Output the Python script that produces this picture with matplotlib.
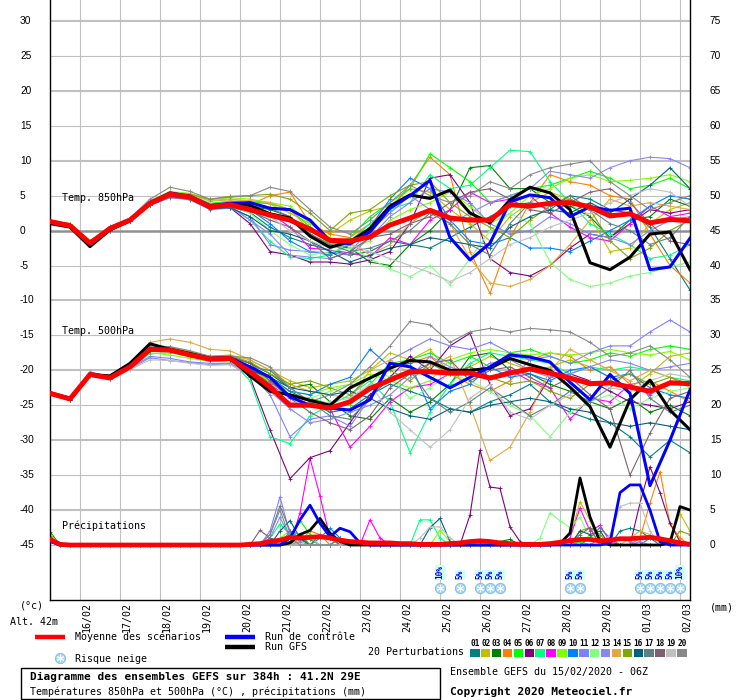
import numpy as np
import matplotlib
matplotlib.use('Agg')
import matplotlib.pyplot as plt
from matplotlib.patches import Rectangle

W, H = 740, 700
MONO = 'DejaVu Sans Mono'
SANS = 'Liberation Sans'

# ---------------- data ----------------
dates = ['16/02', '17/02', '18/02', '19/02', '20/02', '21/02', '22/02', '23/02',
         '24/02', '25/02', '26/02', '27/02', '28/02', '29/02', '01/03', '02/03']
hours12 = list(range(0, 385, 12))   # forecast hours from 15/02 06Z
hours6 = list(range(0, 385, 6))

member_colors = ['#008080', '#c0c000', '#008000', '#ff8000', '#00ff00', '#800080',
                 '#00ff80', '#ff00ff', '#80ff00', '#0080ff', '#8080ff', '#80ff80',
                 '#8888f0', '#e0a840', '#80a800', '#006080', '#608080', '#806070',
                 '#c0c0c0', '#888888']

t850_mean = [1.3,0.7,-1.8,0.3,1.5,3.9,5.2,4.8,3.4,3.7,3.0, 2.2,1.5,0.2,-1.4,-1.5,-0.9,0.8,1.8,2.9,1.8,1.5, 1.5,3.7,3.5,3.9,4.0,3.4,2.1,2.4,1.1,1.6,1.4]
t850_ctrl = [1.2,0.7,-2.0,0.3,1.4,4.0,5.4,4.9,3.6,3.9,4.0, 3.2,3.0,1.5,-1.5,-1.9,-0.2,3.2,5.0,7.2,-1.0,-4.2, -1.8,4.1,5.1,4.7,2.0,3.4,2.9,3.2,-5.6,-5.2,-1.1]
t850_gfs = [1.0,0.5,-2.3,0.1,1.4,3.9,5.3,4.9,3.5,3.8,3.6, 2.4,1.8,-0.8,-2.4,-1.6,0.3,3.5,5.1,4.6,5.8,2.5, 1.1,4.4,6.2,5.4,3.0,-4.6,-5.6,-3.8,-0.5,-0.2,-5.6]

t850_members = [
    [1.2,0.8,-1.9,0.2,1.5,3.8,5.0,4.6,3.2,3.4,2.6, 0.5,-1.0,-2.0,-2.8,-3.5,-3.0,-1.5,-2.0,-2.5,-1.0,0.5, 2.0,3.5,4.0,3.0,5.0,4.5,3.0,2.5,0.5,-4.0,-8.5],
    [1.4,0.9,-1.6,0.4,1.6,4.1,5.5,5.3,4.4,4.5,4.2, 3.8,2.5,1.0,-0.5,1.5,2.8,3.5,6.0,5.5,3.0,1.0, -1.5,2.0,4.0,5.5,4.5,2.0,-3.0,-2.5,1.0,3.0,4.0],
    [1.3,0.7,-1.7,0.3,1.4,3.9,5.1,4.9,3.6,3.8,3.5, 3.0,2.0,-0.5,-2.0,-2.5,-4.5,-5.0,-2.0,0.0,3.0,9.0, 9.3,6.0,6.0,4.0,3.5,2.0,-1.0,1.5,2.0,4.5,3.5],
    [1.1,0.6,-1.8,0.2,1.5,4.0,5.2,5.0,3.8,3.9,3.7, 5.0,5.5,1.0,-0.5,-1.0,1.0,3.0,6.5,10.5,8.0,-3.0, -9.0,-1.0,4.0,8.0,7.0,6.5,5.0,4.5,-0.5,-5.0,-7.5],
    [1.2,0.8,-1.8,0.3,1.6,4.2,5.4,5.1,3.9,4.2,4.0, 3.9,3.0,0.5,-2.0,-1.0,2.0,4.0,6.0,11.0,9.0,7.0, 4.0,5.0,6.0,6.5,7.5,8.5,7.5,6.0,6.5,7.5,6.0],
    [1.0,0.5,-2.1,0.0,1.3,3.6,4.8,4.5,3.2,3.3,1.0, -3.0,-3.5,-4.5,-4.5,-4.8,-4.2,-3.0,1.0,7.5,8.0,4.0, -4.0,-6.0,-6.5,-5.0,-2.5,-0.5,-1.0,1.0,3.0,2.5,3.0],
    [1.2,0.8,-1.9,0.1,1.3,3.7,5.0,4.7,3.3,3.5,1.5, -1.5,-3.8,-4.0,-3.5,-1.5,1.0,3.0,4.0,8.0,6.0,6.5, 9.0,11.5,11.3,7.0,4.0,1.0,-0.5,-2.0,-4.0,-3.5,-2.0],
    [1.3,0.9,-1.7,0.4,1.5,4.0,5.2,4.8,3.5,3.8,3.5, 2.5,0.5,-2.5,-2.8,-3.2,-3.8,-1.0,-2.0,1.5,3.0,5.5, 4.0,4.5,5.0,2.5,0.5,-1.0,-1.5,1.0,3.5,2.0,2.5],
    [1.4,1.0,-1.5,0.5,1.7,4.3,5.6,5.3,4.3,4.7,4.5, 4.0,3.5,1.0,-1.0,-2.5,-1.5,1.5,3.0,4.0,5.5,3.5, 1.0,2.5,5.0,6.0,7.5,8.0,7.0,7.2,7.5,8.0,7.0],
    [1.2,0.7,-1.9,0.2,1.4,3.8,5.0,4.6,3.4,3.5,3.0, 1.0,-1.5,-3.0,-3.5,-2.0,0.5,4.5,7.5,6.0,1.5,-1.5, -2.0,-1.0,-2.5,-2.5,-3.0,-1.5,0.0,1.5,3.5,5.0,4.5],
    [1.1,0.6,-2.0,0.1,1.3,3.6,4.7,4.4,3.0,3.2,2.0, -2.0,-2.8,-3.0,-3.2,-3.5,-1.0,2.0,4.0,6.0,5.5,4.0, 1.0,-0.5,0.0,2.0,1.0,-0.5,-1.0,-2.0,0.0,1.5,2.0],
    [1.3,0.8,-1.8,0.3,1.5,4.0,5.1,4.7,3.4,3.6,2.5, 0.0,-2.0,-3.5,-3.0,-2.5,-4.0,-5.5,-6.6,-5.0,-7.8,-4.0, 0.0,2.5,1.0,-4.5,-7.0,-8.0,-7.5,-6.5,-6.0,-5.2,-4.5],
    [1.2,0.7,-1.9,0.2,1.4,3.7,4.9,4.6,3.3,3.4,1.5, -0.5,-3.5,-3.8,-4.0,-3.0,0.0,2.5,5.0,3.0,1.0,2.5, 4.0,5.0,6.0,8.5,8.0,7.5,9.0,10.0,10.5,10.3,9.0],
    [1.3,0.8,-1.7,0.4,1.6,4.1,5.4,5.2,4.2,4.4,4.3, 4.0,3.0,0.0,-1.5,-1.8,-3.5,-2.0,1.0,3.0,1.0,-4.0, -7.5,-8.0,-7.0,-5.0,-2.0,1.5,4.5,3.5,4.0,3.5,3.0],
    [1.4,1.0,-1.6,0.5,1.7,4.2,5.4,5.2,4.5,4.9,5.0, 5.2,4.5,2.5,0.0,2.5,3.0,5.0,6.5,7.0,4.0,2.0, 0.5,-1.0,1.5,3.5,4.5,3.0,-1.5,-4.0,-2.5,0.0,1.5],
    [1.1,0.6,-2.0,0.1,1.3,3.7,4.9,4.5,3.1,3.3,2.0, 0.0,-0.5,-1.5,-3.0,-4.5,-3.5,-2.5,-2.0,-1.0,-1.5,-2.0, -2.5,0.5,2.0,3.0,2.5,4.0,2.5,4.5,6.5,9.0,6.0],
    [1.2,0.7,-1.8,0.2,1.4,3.8,5.0,4.6,3.4,3.6,3.5, 3.2,2.0,-0.5,-2.0,-3.0,-2.5,-1.5,0.0,2.5,1.0,-2.0, -3.5,1.0,4.0,3.5,5.0,3.0,1.0,0.0,-2.0,-1.0,2.0],
    [1.0,0.6,-2.0,0.0,1.3,3.7,4.8,4.5,3.3,3.4,2.8, 1.5,0.5,-1.5,-4.0,-3.0,-1.0,-0.5,1.0,2.0,4.0,5.5, 6.0,4.5,3.0,2.5,4.0,5.5,6.0,4.0,1.0,-1.5,-2.0],
    [1.3,0.9,-1.8,0.3,1.5,4.0,5.3,5.0,3.8,4.0,3.8, 2.0,0.0,-1.5,-2.5,-2.0,-3.0,-4.0,-5.0,-6.0,-7.3,-6.0, -4.0,-2.0,-1.0,0.5,1.5,2.5,4.0,5.0,6.0,5.5,3.5],
    [1.4,1.0,-1.5,0.6,1.8,4.5,6.2,5.6,4.5,4.8,5.0, 6.2,5.6,3.0,0.5,-0.5,1.5,4.0,6.5,5.0,4.0,5.0, 7.0,6.0,8.0,9.0,9.5,10.0,7.0,5.0,3.0,4.0,5.0],
]

t500_mean = [-23.3,-24.1,-20.6,-21.1,-19.5,-17.0,-17.1,-17.8,-18.4,-18.3,-20.2, -22.4,-25.0,-25.0,-25.4,-24.5,-22.6,-21.4,-20.2,-20.2,-20.4,-20.4, -21.1,-20.4,-19.8,-20.4,-21.1,-21.9,-21.8,-22.4,-23.0,-21.8,-21.9]
t500_ctrl = [-23.3,-24.1,-20.5,-21.0,-19.4,-17.0,-17.0,-17.8,-18.3,-18.2,-19.5, -21.0,-23.8,-25.0,-25.4,-25.7,-24.2,-19.0,-19.5,-21.0,-22.5,-21.0, -19.5,-17.8,-18.1,-18.8,-21.7,-24.2,-20.6,-23.3,-36.5,-30.0,-22.8]
t500_gfs = [-23.2,-24.0,-20.6,-20.8,-19.0,-16.2,-17.0,-17.6,-18.3,-18.2,-20.8, -23.0,-23.5,-24.3,-25.0,-22.5,-21.1,-19.7,-18.6,-18.8,-20.0,-20.0, -19.7,-18.3,-19.2,-20.0,-22.4,-25.2,-31.0,-24.2,-21.4,-25.7,-28.5]

t500_members = [
    [-23.2,-24.2,-20.7,-21.2,-19.4,-17.2,-17.0,-17.6,-18.2,-18.0,-19.8, -21.5,-23.0,-24.5,-26.0,-25.5,-23.5,-22.0,-23.0,-24.0,-25.5,-26.0, -24.5,-23.5,-22.0,-24.5,-26.0,-27.0,-27.5,-29.5,-32.4,-30.0,-31.8],
    [-23.3,-24.0,-20.5,-21.0,-19.3,-16.8,-16.8,-17.3,-18.0,-17.8,-18.5, -20.0,-21.5,-22.5,-22.0,-21.5,-20.0,-17.5,-18.5,-17.0,-20.5,-19.5, -18.0,-19.0,-20.0,-19.5,-18.5,-19.5,-21.0,-22.5,-20.5,-18.0,-17.5],
    [-23.4,-24.1,-20.6,-21.1,-19.6,-17.1,-17.0,-17.5,-18.2,-18.0,-19.0, -20.5,-22.5,-22.0,-24.5,-26.5,-27.0,-24.0,-26.0,-24.5,-22.0,-18.0, -17.5,-20.0,-20.5,-22.0,-23.0,-24.5,-25.5,-24.0,-26.0,-25.0,-26.5],
    [-23.2,-24.0,-20.4,-21.0,-19.2,-16.8,-16.7,-17.4,-18.0,-18.1,-19.5, -21.5,-23.5,-24.5,-25.0,-22.5,-21.0,-19.5,-19.0,-18.0,-20.5,-22.0, -23.0,-21.5,-18.5,-17.5,-18.0,-20.0,-19.5,-22.0,-21.5,-23.0,-24.5],
    [-23.3,-24.1,-20.6,-21.0,-19.4,-17.0,-17.2,-17.8,-18.4,-18.3,-19.7, -21.8,-23.5,-24.0,-24.8,-25.0,-22.0,-19.0,-18.5,-17.5,-19.0,-18.0, -19.5,-17.5,-17.0,-18.0,-19.0,-18.5,-17.5,-18.0,-17.0,-16.5,-17.0],
    [-23.4,-24.2,-20.7,-21.2,-19.6,-17.2,-17.2,-17.7,-18.5,-18.4,-21.0, -28.5,-35.5,-32.5,-31.5,-27.5,-23.5,-21.0,-18.0,-20.0,-16.5,-14.7, -22.0,-26.5,-25.5,-21.0,-20.5,-21.5,-23.0,-24.5,-25.0,-25.5,-24.5],
    [-23.3,-24.0,-20.6,-21.1,-19.8,-17.6,-17.5,-18.0,-18.6,-18.5,-21.5, -29.5,-30.5,-26.5,-25.0,-23.5,-21.5,-24.5,-31.8,-26.0,-22.0,-19.0, -17.5,-18.0,-18.5,-19.0,-20.5,-19.5,-20.0,-19.5,-20.0,-21.0,-21.5],
    [-23.2,-24.0,-20.5,-21.0,-19.3,-16.9,-16.9,-17.5,-18.2,-18.2,-19.8, -22.0,-24.0,-24.0,-25.5,-31.0,-28.0,-24.5,-22.5,-22.0,-20.5,-19.5, -21.0,-20.0,-21.5,-22.5,-27.0,-24.0,-24.5,-22.0,-23.5,-21.5,-22.0],
    [-23.1,-23.9,-20.4,-20.8,-19.3,-17.5,-17.8,-18.3,-18.7,-18.8,-20.0, -21.5,-23.0,-23.5,-22.5,-22.0,-20.5,-21.5,-22.5,-21.5,-18.5,-17.5, -17.0,-17.5,-17.8,-17.5,-17.8,-17.5,-17.0,-17.5,-17.8,-17.3,-18.5],
    [-23.3,-24.0,-20.2,-21.0,-19.4,-17.0,-17.1,-17.6,-18.3,-18.3,-19.5, -21.0,-23.0,-23.5,-22.0,-21.0,-17.0,-19.5,-19.0,-25.5,-23.0,-22.0, -19.5,-21.0,-20.5,-21.5,-20.0,-19.5,-21.0,-20.5,-22.5,-23.5,-24.0],
    [-23.4,-24.1,-20.6,-21.2,-19.7,-18.0,-18.3,-18.8,-19.0,-19.0,-20.5, -23.5,-29.5,-27.0,-26.5,-28.0,-24.0,-18.5,-17.0,-15.5,-16.5,-17.0, -16.0,-17.5,-18.5,-18.0,-19.0,-17.5,-16.5,-16.5,-14.5,-12.8,-14.5],
    [-23.2,-24.0,-20.5,-21.0,-19.5,-17.2,-17.0,-17.7,-18.3,-18.4,-20.0, -22.5,-23.5,-24.0,-23.0,-22.0,-19.5,-21.0,-24.0,-22.5,-20.5,-21.5, -23.0,-25.0,-26.5,-29.5,-26.0,-24.5,-23.5,-25.5,-24.0,-23.0,-22.5],
    [-23.3,-24.2,-20.8,-21.3,-19.8,-18.2,-18.6,-18.9,-19.2,-19.1,-20.8, -23.0,-25.5,-27.5,-27.0,-26.0,-25.0,-23.5,-21.0,-18.0,-19.5,-20.5, -19.0,-18.5,-20.0,-21.0,-20.5,-19.5,-18.5,-19.0,-20.0,-19.5,-19.0],
    [-23.1,-23.9,-20.3,-20.9,-19.2,-16.0,-15.5,-16.0,-17.0,-17.2,-18.5, -20.0,-22.0,-23.0,-23.5,-24.0,-20.0,-18.5,-20.5,-19.5,-18.0,-25.0, -32.9,-31.0,-26.0,-20.0,-17.0,-18.5,-20.0,-21.5,-20.0,-21.0,-22.5],
    [-23.2,-24.0,-20.5,-20.9,-19.3,-16.9,-16.7,-17.4,-18.0,-17.9,-18.8, -20.5,-22.0,-21.5,-22.5,-23.5,-21.0,-20.0,-21.5,-19.0,-20.5,-19.5, -21.0,-22.0,-21.5,-23.0,-24.0,-22.0,-21.5,-20.5,-22.0,-21.0,-22.0],
    [-23.4,-24.2,-20.7,-21.2,-19.7,-17.3,-17.3,-17.8,-18.5,-18.5,-20.0, -21.0,-22.5,-23.0,-23.5,-23.0,-24.0,-25.5,-26.5,-27.0,-25.5,-26.0, -25.0,-24.5,-24.0,-24.5,-25.5,-26.0,-27.5,-28.0,-27.5,-28.0,-28.5],
    [-23.3,-24.1,-20.6,-21.1,-19.5,-17.1,-17.1,-17.6,-18.3,-18.3,-19.5, -20.0,-22.5,-24.5,-26.5,-27.0,-24.0,-21.0,-20.0,-24.0,-26.0,-24.5, -22.5,-24.5,-26.5,-25.0,-23.0,-24.5,-22.5,-20.0,-24.0,-26.0,-25.0],
    [-23.2,-24.0,-20.5,-21.0,-19.4,-17.0,-16.9,-17.5,-18.2,-18.1,-19.0, -21.5,-24.0,-26.0,-27.5,-28.5,-26.5,-22.5,-20.5,-19.0,-18.5,-21.5, -20.0,-19.5,-21.0,-22.5,-21.0,-23.5,-25.5,-35.0,-29.0,-24.0,-23.0],
    [-23.3,-24.1,-20.7,-21.3,-19.9,-18.5,-18.6,-19.0,-19.3,-19.2,-20.5, -23.0,-24.5,-25.0,-24.5,-24.0,-22.0,-26.0,-28.5,-31.0,-28.5,-24.0, -22.0,-26.0,-27.0,-25.0,-23.5,-21.5,-22.5,-23.0,-21.5,-20.5,-21.0],
    [-23.2,-24.0,-20.4,-20.9,-19.3,-16.5,-16.6,-17.2,-18.0,-18.0,-18.2, -19.5,-22.5,-24.5,-23.5,-22.0,-19.5,-16.5,-13.0,-13.5,-16.0,-14.5, -14.0,-14.5,-14.0,-14.2,-14.5,-16.0,-18.0,-17.5,-16.5,-18.5,-21.0],
]

# precipitation (mm per 6h step)
rr_mean = [.8,.1,0,0,0, 0,0,0,0,0, 0,0,0,0,0, 0,0,0,0,0, .1,.2,.5,.7,1.1, 1.0,1.1,1.2,1.0,.7, .5,.4,.3,.3,.3, .2,.2,.1,.1,.1, .2,.3,.5,.6,.5, .3,.2,.1,.1,.1, .2,.4,.6,.8,.8, .6,.7,.9,.9,1.0, 1.1,.9,.6,.3,.1]
rr_ctrl = [.5,0,0,0,0, 0,0,0,0,0, 0,0,0,0,0, 0,0,0,0,0, 0,0,0,0,1.0, 3.6,5.7,3.1,1.2,2.4, 1.9,.3,0,0,0, 0,0,0,0,0, 0,0,0,0,0, 0,0,0,0,0, 0,0,0,0,0, 0,.3,7.5,8.6,8.6, 5.0,.5,0,0,0]
rr_gfs = [.6,0,0,0,0, 0,0,0,0,0, 0,0,0,0,0, 0,0,0,0,0, 0,0,0,0,.3, 1.5,2.1,3.8,1.7,.5, 0,0,0,0,0, 0,0,0,0,0, 0,0,0,0,0, 0,0,0,0,0, 0,.2,1.7,9.6,4.0, .5,0,0,0,0, 0,0,.3,5.5,5.0]

rr_members = [
    [1.0,0,0,0,0, 0,0,0,0,0, 0,0,0,0,0, 0,0,0,0,0, 0,0,0,.5,1.2, .8,0,0,0,0, 0,0,0,0,0, 0,0,0,0,0, 0,0,0,0,0, 0,0,0,0,0, 0,0,0,0,0, 0,0,2.0,2.4,2.0, 1.0,0,0,0,0],
    [1.3,0,0,0,0, 0,0,0,0,0, 0,0,0,0,0, 0,0,0,0,0, 0,0,0,0,0, .5,1.0,0,0,0, 0,0,0,0,0, 0,0,0,0,0, 0,0,0,0,0, 0,0,0,0,0, 0,0,1.0,6.2,3.5, .5,0,0,0,0, 0,0,1.0,4.5,2.0],
    [1.9,0,0,0,0, 0,0,0,0,0, 0,0,0,0,0, 0,0,0,0,0, 0,0,0,0,0, 1.5,.8,0,0,1.0, .5,0,0,0,0, 0,0,0,0,0, 0,0,0,0,0, .5,.8,0,0,0, 0,0,0,0,0, 0,.5,0,0,0, 0,0,0,0,0],
    [.8,0,0,0,0, 0,0,0,0,0, 0,0,0,0,0, 0,0,0,0,0, 0,0,0,0,0, .5,2.0,1.5,0,0, 0,0,0,0,0, 0,0,0,0,0, 0,0,0,0,0, 0,0,0,0,0, 0,0,0,0,0, 0,0,0,0,1.0, 6.0,10.5,3.0,1.0,0],
    [1.2,0,0,0,0, 0,0,0,0,0, 0,0,0,0,0, 0,0,0,0,0, 0,0,0,0,1.0, 3.5,1.5,1.0,1.5,0, 0,0,0,0,0, 0,0,0,0,0, 0,0,0,0,0, 0,0,0,0,0, 0,0,0,.5,0, 0,0,0,0,0, 0,0,0,0,0],
    [.7,0,0,0,0, 0,0,0,0,0, 0,0,0,0,0, 0,0,0,0,0, 0,0,0,0,.5, 1.0,0,0,0,0, 0,0,0,0,0, 0,0,0,0,0, 0,0,4.3,13.6,8.3, 8.1,2.6,.5,0,0, 0,0,0,0,0, 0,0,0,0,6.0, 11.2,7.5,3.1,.5,0],
    [1.0,0,0,0,0, 0,0,0,0,0, 0,0,0,0,0, 0,0,0,0,0, 0,0,1.0,3.0,1.5, 0,0,0,0,0, 0,0,0,0,0, 0,0,3.6,3.6,1.0, 0,0,0,0,0, 0,0,0,0,0, 0,0,.5,0,0, 0,0,0,0,0, 0,0,0,0,0],
    [1.2,0,0,0,0, 0,0,0,0,0, 0,0,0,0,0, 0,0,0,0,0, 0,0,0,0,0, 4.6,12.4,7.0,1.0,0, 0,0,3.6,1.0,0, 0,0,0,0,0, 0,0,0,0,0, 0,0,0,0,0, 0,0,1.0,5.3,2.0, 2.8,.5,0,0,0, 0,0,0,0,0],
    [1.5,0,0,0,0, 0,0,0,0,0, 0,0,0,0,0, 0,0,0,0,0, 0,0,0,1.0,2.0, .5,0,0,0,0, 0,0,0,0,0, 0,0,0,0,2.1, .5,0,0,0,0, 0,0,0,0,0, 0,0,0,0,1.5, 1.0,0,0,0,0, 0,0,0,0,0],
    [.9,0,0,0,0, 0,0,0,0,0, 0,0,0,0,0, 0,0,0,0,0, 0,0,0,0,2.0, 1.0,0,1.0,2.4,1.0, 0,0,0,0,0, 0,0,0,0,0, 0,0,0,0,0, 0,0,0,0,0, 0,0,0,0,0, 0,0,0,0,0, 1.0,.5,0,0,0],
    [.6,0,0,0,0, 0,0,0,0,0, 0,0,0,0,0, 0,0,0,0,0, 0,0,2.0,6.9,1.5, .5,0,0,0,0, 0,0,0,0,0, 0,0,0,0,0, 0,0,0,0,0, 0,0,0,0,0, 0,0,0,0,0, 0,0,0,0,.5, 0,0,0,0,0],
    [1.4,0,0,0,0, 0,0,0,0,0, 0,0,0,0,0, 0,0,0,0,0, 0,0,0,0,0, 0,1.0,0,0,0, 0,0,0,0,0, 0,0,0,0,0, 0,0,0,0,0, 0,0,0,0,1.0, 4.6,3.5,2.5,4.0,1.0, 0,0,0,0,0, 0,0,0,0,0],
    [.8,0,0,0,0, 0,0,0,0,0, 0,0,0,0,0, 0,0,0,0,0, 0,0,1.0,4.0,1.0, 0,0,0,0,0, 0,0,0,0,0, 0,0,0,0,0, 0,0,0,0,0, 0,0,0,0,0, 0,0,0,0,0, 0,0,1.0,.5,0, 0,0,0,0,0],
    [1.1,0,0,0,0, 0,0,0,0,0, 0,0,0,0,0, 0,0,0,0,0, 0,0,0,0,0, 1.0,0,0,0,0, 0,0,0,0,0, 0,0,0,0,0, 0,0,0,0,0, 0,0,0,0,0, 0,0,0,0,0, 0,0,0,1.0,2.0, 1.5,0,0,0,0],
    [1.3,0,0,0,0, 0,0,0,0,0, 0,0,0,0,0, 0,0,0,0,0, 0,0,0,0,1.0, 1.5,0,0,0,0, 0,0,0,0,0, 0,0,0,0,0, 0,0,0,0,0, 0,0,0,0,0, 0,0,0,2.0,2.5, 1.5,0,0,0,0, 0,0,0,2.0,1.5],
    [.9,0,0,0,0, 0,0,0,0,0, 0,0,0,0,0, 0,0,0,0,0, 0,0,0,2.0,3.5, 1.0,0,0,0,0, 0,0,0,0,0, 0,0,0,2.5,3.8, .5,0,0,0,0, 0,0,0,0,0, 0,0,0,2.0,1.5, 2.0,0,0,0,0, 0,0,0,0,0],
    [1.0,0,0,0,0, 0,0,0,0,0, 0,0,0,0,0, 0,0,0,0,0, 0,0,1.5,5.6,2.0, 1.5,0,0,0,0, 0,0,0,0,0, 0,0,0,0,0, 0,0,0,0,0, 0,0,0,0,0, 0,0,0,0,1.0, 2.5,1.0,0,0,0, 0,0,0,0,0],
    [.7,0,0,0,0, 0,0,0,0,0, 0,0,0,0,0, 0,0,0,0,0, 0,2.1,1.0,.5,0, 0,0,1.5,1.0,0, 0,0,0,0,0, 0,0,0,0,0, 0,0,0,0,0, 0,0,0,0,0, 0,0,0,1.5,2.5, 0,0,0,0,0, 0,0,0,0,0],
    [.8,0,0,0,0, 0,0,0,0,0, 0,0,0,0,0, 0,0,0,0,0, 0,0,0,.5,0, 0,0,0,0,0, 0,0,0,0,0, 0,0,1.0,2.6,2.6, 1.0,0,0,0,0, 0,0,0,0,0, 0,0,0,0,0, 0,1.5,5.5,6.0,6.0, 2.0,0,0,0,0],
    [1.0,0,0,0,0, 0,0,0,0,0, 0,0,0,0,0, 0,0,0,0,0, 0,0,1.5,5.0,1.0, 0,0,0,0,1.0, .5,0,0,0,0, 0,0,0,0,0, 0,0,0,0,0, 0,0,0,0,0, 0,0,0,0,0, 1.0,0,0,0,0, 0,0,0,0,0],
]

snow_hours = [234, 246, 258, 264, 270, 312, 318, 354, 360, 366, 372, 378]
snow_pct = [10, 5, 5, 5, 5, 5, 5, 5, 5, 5, 5, 10]

left_ticks = list(range(30, -50, -5))
right_ticks = [v + 45 for v in left_ticks]

# ---------------- figure ----------------
fig = plt.figure(figsize=(W / 100, H / 100), dpi=100)
fig.patch.set_facecolor('white')

Y_TOP, Y_BOT = 33.0, -52.87
PX_PER_DEG = 6.987

ax = fig.add_axes([50 / W, 100 / H, 640 / W, 600 / H])
ax.set_xlim(0, 384)
ax.set_ylim(Y_BOT, Y_TOP)
ax.set_xticks([])
ax.set_yticks([])
for s in ['top']:
    ax.spines[s].set_visible(False)
for s in ['left', 'right', 'bottom']:
    ax.spines[s].set_color('black')
    ax.spines[s].set_linewidth(1.0)

# grid
for v in left_ticks:
    if v == 0:
        ax.axhline(v, color='#909090', lw=1.8, zorder=1)
    elif v % 10 == 0:
        ax.axhline(v, color='#c0c0c0', lw=1.5, zorder=0)
    else:
        ax.axhline(v, color='#c0c0c0', lw=0.8, zorder=0)
for k in range(len(dates)):
    ax.axvline(18 + 24 * k, color='#c0c0c0', lw=0.8, zorder=0)

mk = dict(marker='+', ms=2.5, mew=0.6)

# precipitation (offset -45 on left scale)
for col, rr in zip(member_colors, rr_members):
    ax.plot(hours6, [p - 45 for p in rr], color=col, lw=0.8, zorder=2, **mk)
ax.plot(hours6, [p - 45 for p in rr_gfs], color='black', lw=2.0, zorder=4)
ax.plot(hours6, [p - 45 for p in rr_ctrl], color='#0000ff', lw=2.0, zorder=4)
ax.plot(hours6, [p - 45 for p in rr_mean], color='#ff0000', lw=3.4, zorder=5)

# temperatures
for col, a, b in zip(member_colors, t850_members, t500_members):
    ax.plot(hours12, a, color=col, lw=0.8, zorder=2, **mk)
    ax.plot(hours12, b, color=col, lw=0.8, zorder=2, **mk)
for series in (t850_gfs, t500_gfs):
    ax.plot(hours12, series, color='black', lw=2.2, zorder=4)
for series in (t850_ctrl, t500_ctrl):
    ax.plot(hours12, series, color='#0000ff', lw=2.2, zorder=4)
for series in (t850_mean, t500_mean):
    ax.plot(hours12, series, color='#ff0000', lw=3.6, zorder=5)

# panel labels
ax.text(7, 4.7, 'Temp. 850hPa', family=MONO, fontsize=7.2, va='center', ha='left', zorder=6)
ax.text(7, -14.4, 'Temp. 500hPa', family=MONO, fontsize=7.2, va='center', ha='left', zorder=6)
ax.text(7, -42.3, 'Précipitations', family=MONO, fontsize=7.2, va='center', ha='left', zorder=6)

# snow risk icons
y_icon = -51.15
ax.scatter(snow_hours, [y_icon] * len(snow_hours), s=55, c='#a8d8f4', edgecolors='#78b8e8',
           linewidths=0.6, zorder=6, clip_on=False)
ax.scatter(snow_hours, [y_icon] * len(snow_hours), s=22, marker=(6, 2, 0), c='white',
           linewidths=0.7, zorder=7, clip_on=False)
for h, p in zip(snow_hours, snow_pct):
    ax.text(h, -49.9, f'{p}%', rotation=90, ha='center', va='bottom', color='#0000ff',
            fontsize=5.6, family=MONO, fontweight='bold', zorder=7,
            bbox=dict(boxstyle='square,pad=0.05', fc='#ccffff', ec='none'))

# ---------------- overlay in pixel coordinates ----------------
ov = fig.add_axes([0, 0, 1, 1])
ov.set_xlim(0, W)
ov.set_ylim(H, 0)
ov.axis('off')
ov.patch.set_alpha(0)

def ypix(v):
    return 230.6 - v * PX_PER_DEG

for v, r in zip(left_ticks, right_ticks):
    ov.text(20, ypix(v), str(v), family=SANS, fontsize=7.3, ha='left', va='center')
    ov.text(710, ypix(v), str(r), family=SANS, fontsize=7.3, ha='left', va='center')

for k, d in enumerate(dates):
    ov.text(80 + 40 * k + 2, 602, d, rotation=90, family=MONO, fontsize=7.2,
            ha='left', va='top')

ov.text(20, 606, '(°c)', family=MONO, fontsize=7.2, ha='left', va='center')
ov.text(10, 622, 'Alt. 42m', family=MONO, fontsize=7.2, ha='left', va='center')
ov.text(710, 607, '(mm)', family=MONO, fontsize=7.2, ha='left', va='center')

ov.plot([35, 65], [637, 637], color='#ff0000', lw=3.2, solid_capstyle='butt')
ov.text(75, 637, 'Moyenne des scénarios', family=MONO, fontsize=7.2, ha='left', va='center')
ov.plot([225, 255], [637, 637], color='#0000ff', lw=3.2, solid_capstyle='butt')
ov.text(265, 637, 'Run de contrôle', family=MONO, fontsize=7.2, ha='left', va='center')
ov.plot([225, 255], [647, 647], color='black', lw=3.2, solid_capstyle='butt')
ov.text(265, 647, 'Run GFS', family=MONO, fontsize=7.2, ha='left', va='center')

ov.scatter([60], [657.5], s=55, c='#a8d8f4', edgecolors='#78b8e8', linewidths=0.6)
ov.scatter([60], [657.5], s=22, marker=(6, 2, 0), c='white', linewidths=0.7)
ov.text(75, 659, 'Risque neige', family=MONO, fontsize=7.2, ha='left', va='center')

ov.text(368, 652, '20 Perturbations', family=MONO, fontsize=7.2, ha='left', va='center')
for i, col in enumerate(member_colors):
    x0 = 470 + i * 10.9
    ov.add_patch(Rectangle((x0, 649), 9.5, 7.5, facecolor=col, edgecolor='none'))
    ov.text(x0 + 4.75, 643, f'{i + 1:02d}', family=MONO, fontsize=5.6, fontweight='bold',
            ha='center', va='center')

ov.add_patch(Rectangle((20.5, 667.5), 419, 31.5, facecolor='none', edgecolor='black', lw=1.0))
ov.text(30, 677, 'Diagramme des ensembles GEFS sur 384h : 41.2N 29E', family=MONO,
        fontsize=8.0, fontweight='bold', ha='left', va='center')
ov.text(30, 691.5, 'Températures 850hPa et 500hPa (°C) , précipitations (mm)', family=MONO,
        fontsize=7.2, ha='left', va='center')
ov.text(450, 672.5, 'Ensemble GEFS du 15/02/2020 - 06Z', family=MONO, fontsize=7.2,
        ha='left', va='center')
ov.text(450, 691.5, 'Copyright 2020 Meteociel.fr', family=MONO, fontsize=8.0,
        fontweight='bold', ha='left', va='center')

fig.savefig('out.png', dpi=100, facecolor='white')
